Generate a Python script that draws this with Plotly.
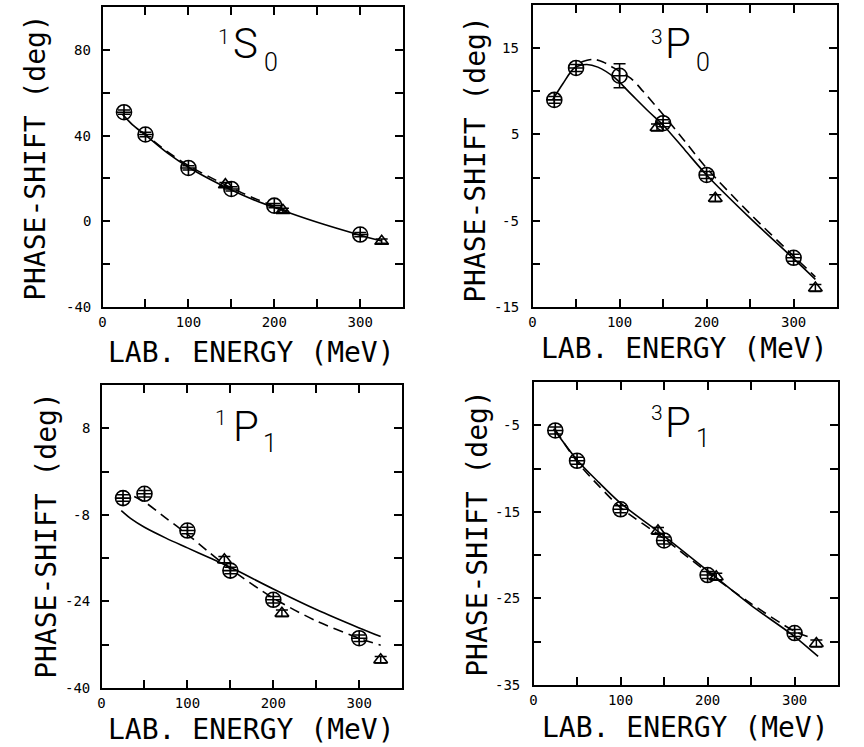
import plotly.graph_objects as go

# ---------------- data ----------------
E_pts = [25, 50, 100, 150, 200, 300]
E_tri = [143, 210, 325]

# 1S0
s0_circ = [50.9, 40.5, 24.9, 15.1, 7.3, -6.2]
s0_tri = [17.1, 5.1, -9.3]
s0_solid_E = [23, 35, 50, 75, 100, 125, 150, 175, 200, 250, 300, 325]
s0_solid = [50.0, 45.0, 40.2, 32.0, 25.2, 19.6, 14.6, 10.2, 6.4, -0.5, -6.5, -9.2]
s0_dash_E = [45, 50, 75, 100, 125, 150, 175, 200, 215]
s0_dash = [42.0, 40.5, 32.6, 26.0, 20.6, 15.6, 11.0, 7.0, 4.8]

# 3P0
p0_circ = [9.0, 12.7, 11.8, 6.3, 0.3, -9.3]
p0_circ_err = [0.4, 0.4, 1.4, 0.4, 0.4, 0.4]
p0_tri = [5.8, -2.4, -12.8]
p0_solid_E = [23, 35, 48, 62, 75, 94, 113, 134, 150, 175, 200, 250, 300, 325]
p0_solid = [9.0, 10.9, 12.7, 13.1, 12.8, 11.6, 9.7, 7.6, 6.1, 3.2, 0.3, -4.7, -9.4, -11.8]
p0_dash_E = [56, 70, 81, 90, 113, 127, 150, 175, 200, 250, 300, 325]
p0_dash = [13.4, 13.7, 13.4, 12.9, 11.5, 10.0, 7.3, 4.2, 1.1, -4.2, -9.1, -11.5]

# 1P1
p11_circ = [-4.9, -4.1, -10.9, -18.3, -23.7, -30.8]
p11_tri = [-16.3, -26.2, -34.8]
p11_solid_E = [23, 35, 50, 75, 100, 125, 150, 200, 250, 300, 325]
p11_solid = [-7.2, -8.8, -10.3, -12.3, -14.1, -15.9, -17.7, -21.7, -25.5, -28.9, -30.5]
p11_dash_E = [38, 50, 75, 100, 125, 150, 200, 250, 300, 325]
p11_dash = [-4.6, -5.6, -8.6, -11.6, -14.9, -18.0, -23.4, -27.6, -30.8, -32.1]

# 3P1
p31_circ = [-5.6, -9.1, -14.7, -18.3, -22.3, -29.0]
p31_tri = [-17.2, -22.5, -30.2]
p31_solid_E = [23, 50, 75, 100, 150, 200, 250, 300, 327]
p31_solid = [-5.4, -9.0, -11.6, -14.0, -17.8, -21.8, -25.8, -29.4, -31.7]
p31_dash_E = [25, 50, 75, 100, 150, 200, 250, 300, 318]
p31_dash = [-5.5, -9.2, -12.0, -14.5, -18.1, -22.0, -25.6, -28.8, -29.5]

# axis ticks
x_tickvals = [0, 50, 100, 150, 200, 250, 300, 350]
x_ticktext = ["0", "", "100", "", "200", "", "300", ""]

y1_vals = [-40, -20, 0, 20, 40, 60, 80, 100]
y1_text = ["-40", "", "0", "", "40", "", "80", ""]
y2_vals = [-15, -10, -5, 0, 5, 10, 15, 20]
y2_text = ["-15", "", "-5", "", "5", "", "15", ""]
y3_vals = [-40, -32, -24, -16, -8, 0, 8, 16]
y3_text = ["-40", "", "-24", "", "-8", "", "8", ""]
y4_vals = [-35, -30, -25, -20, -15, -10, -5, 0]
y4_text = ["-35", "", "-25", "", "-15", "", "-5", ""]

W, H = 864, 747

def px(x):
    return x / W

def py(y):
    return 1 - y / H

panels = [
    dict(dom=(99, 401, 7, 307), yr=(-40, 100), yv=y1_vals, yt=y1_text,
         circ=s0_circ, cerr=[1.0] * 6, tri=s0_tri, terr=[1.0] * 3,
         sE=s0_solid_E, s=s0_solid, dE=s0_dash_E, d=s0_dash,
         title=[("1", 221, 37, 21), ("S", 243, 43, 42), ("0", 268, 62, 25)],
         ytitle=(32, 157), xtitle=(249, 352), ylab_gap=10),
    dict(dom=(531, 837, 5, 307), yr=(-15, 20), yv=y2_vals, yt=y2_text,
         circ=p0_circ, cerr=p0_circ_err, tri=p0_tri, terr=[0.4] * 3,
         sE=p0_solid_E, s=p0_solid, dE=p0_dash_E, d=p0_dash,
         title=[("3", 656, 37, 21), ("P", 677, 44, 42), ("0", 702, 62, 25)],
         ytitle=(473, 159), xtitle=(684, 348), ylab_gap=12),
    dict(dom=(98, 400, 385, 688), yr=(-40, 16), yv=y3_vals, yt=y3_text,
         circ=p11_circ, cerr=[0.6] * 6, tri=p11_tri, terr=[0.6] * 3,
         sE=p11_solid_E, s=p11_solid, dE=p11_dash_E, d=p11_dash,
         title=[("1", 218, 418, 21), ("P", 243, 426, 42), ("1", 267, 443, 25)],
         ytitle=(42, 535), xtitle=(249, 729), ylab_gap=10),
    dict(dom=(532, 838, 382, 685), yr=(-35, 0), yv=y4_vals, yt=y4_text,
         circ=p31_circ, cerr=[0.4] * 6, tri=p31_tri, terr=[0.4] * 3,
         sE=p31_solid_E, s=p31_solid, dE=p31_dash_E, d=p31_dash,
         title=[("3", 656, 413, 21), ("P", 677, 422, 42), ("1", 702, 438, 25)],
         ytitle=(475, 533), xtitle=(685, 727), ylab_gap=12),
]

fig = go.Figure()
annotations = []
tickfont = dict(family="DejaVu Sans Mono", size=14, color="black")
ytitlefont = dict(family="DejaVu Sans Mono", size=28, color="black")
xtitlefont = dict(family="DejaVu Sans Mono", size=28, color="black")

for i, p in enumerate(panels, start=1):
    xa = "x" if i == 1 else f"x{i}"
    ya = "y" if i == 1 else f"y{i}"
    x0, x1, yt, yb = p["dom"]
    axis_common = dict(
        showline=True, linecolor="black", linewidth=1.5, mirror="ticks",
        ticks="inside", ticklen=8, tickwidth=1.5, tickcolor="black",
        showgrid=False, zeroline=False, tickfont=tickfont,
    )
    fig.update_layout(**{
        ("xaxis" if i == 1 else f"xaxis{i}"): dict(
            domain=[px(x0), px(x1)], anchor=ya, range=[0, 350],
            tickvals=x_tickvals, ticktext=x_ticktext, ticklabelstandoff=1,
            **axis_common),
        ("yaxis" if i == 1 else f"yaxis{i}"): dict(
            domain=[py(yb), py(yt)], anchor=xa, range=list(p["yr"]),
            tickvals=p["yv"], showticklabels=False,
            **axis_common),
    })
    # y tick labels beside the axis at the tick values
    for v, t in zip(p["yv"], p["yt"]):
        if t:
            annotations.append(dict(text=t, x=px(x0 - p["ylab_gap"]), y=v,
                                    xref="paper", yref=ya, showarrow=False,
                                    xanchor="right", yanchor="middle", font=tickfont))
    fig.add_trace(go.Scatter(x=p["sE"], y=p["s"], mode="lines",
                             line=dict(color="black", width=1.6, shape="spline", smoothing=0.8),
                             xaxis=xa, yaxis=ya, showlegend=False, hoverinfo="skip"))
    fig.add_trace(go.Scatter(x=p["dE"], y=p["d"], mode="lines",
                             line=dict(color="black", width=1.6, shape="spline", smoothing=0.8,
                                       dash="10px,6px"),
                             xaxis=xa, yaxis=ya, showlegend=False, hoverinfo="skip"))
    fig.add_trace(go.Scatter(x=E_pts, y=p["circ"], mode="markers",
                             marker=dict(symbol="circle-cross-open", size=15,
                                         color="black", line=dict(width=1.6, color="black")),
                             error_y=dict(type="data", array=p["cerr"], color="black",
                                          thickness=1.5, width=6),
                             xaxis=xa, yaxis=ya, showlegend=False))
    fig.add_trace(go.Scatter(x=E_tri, y=p["tri"], mode="markers",
                             marker=dict(symbol="triangle-up-open", size=12,
                                         color="black", line=dict(width=1.6, color="black")),
                             error_y=dict(type="data", array=p["terr"], color="black",
                                          thickness=1.5, width=6),
                             xaxis=xa, yaxis=ya, showlegend=False))
    for txt, tx, ty, sz in p["title"]:
        annotations.append(dict(text=txt, x=px(tx), y=py(ty), xref="paper", yref="paper",
                                showarrow=False, xanchor="center", yanchor="middle",
                                font=dict(family="Roboto", size=sz, color="black", weight=300)))
    annotations.append(dict(text="PHASE-SHIFT (deg)", x=px(p["ytitle"][0]), y=py(p["ytitle"][1]),
                            xref="paper", yref="paper", showarrow=False, textangle=-90,
                            xanchor="center", yanchor="middle", font=ytitlefont))
    annotations.append(dict(text="LAB. ENERGY (MeV)", x=px(p["xtitle"][0]), y=py(p["xtitle"][1]),
                            xref="paper", yref="paper", showarrow=False,
                            xanchor="center", yanchor="middle", font=xtitlefont))

fig.update_layout(width=W, height=H, margin=dict(l=0, r=0, t=0, b=0),
                  paper_bgcolor="white", plot_bgcolor="white",
                  annotations=annotations, showlegend=False)

# remove the default page margin so the figure fills the window exactly
fig.write_html("out.html", config={"displayModeBar": False},
               post_script="document.body.style.margin='0';document.body.style.overflow='hidden';")
